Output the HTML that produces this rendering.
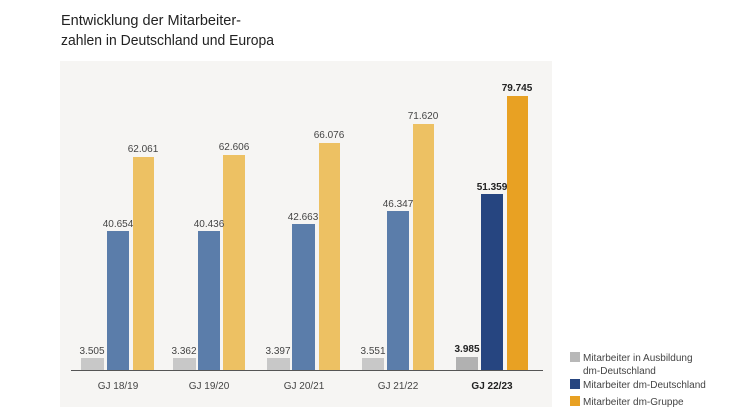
<!DOCTYPE html>
<html><head><meta charset="utf-8"><style>
body{margin:0;background:#fff;}
svg{display:block;font-family:"Liberation Sans",sans-serif;}
</style></head><body>
<svg width="746" height="420" viewBox="0 0 746 420">
<text x="61" y="25" font-size="15" fill="#222" textLength="180" lengthAdjust="spacingAndGlyphs">Entwicklung der Mitarbeiter-</text>
<text x="61" y="45" font-size="15" fill="#222" textLength="213" lengthAdjust="spacingAndGlyphs">zahlen in Deutschland und Europa</text>
<rect x="60" y="61" width="492" height="346" fill="#f6f5f3"/>
<g font-size="10" fill="#444" text-anchor="middle">
<rect x="81" y="358" width="23" height="12" fill="#c8c8c8"/>
<rect x="107" y="231" width="22" height="139" fill="#5b7daa"/>
<rect x="133" y="157" width="21" height="213" fill="#edc163"/>
<text x="92" y="354">3.505</text><text x="118" y="227">40.654</text><text x="143" y="152">62.061</text>
<rect x="173" y="358" width="23" height="12" fill="#c8c8c8"/>
<rect x="198" y="231" width="22" height="139" fill="#5b7daa"/>
<rect x="223" y="155" width="22" height="215" fill="#edc163"/>
<text x="184" y="354">3.362</text><text x="209" y="227">40.436</text><text x="234" y="150">62.606</text>
<rect x="267" y="358" width="23" height="12" fill="#c8c8c8"/>
<rect x="292" y="224" width="23" height="146" fill="#5b7daa"/>
<rect x="319" y="143" width="21" height="227" fill="#edc163"/>
<text x="278" y="354">3.397</text><text x="303" y="220">42.663</text><text x="329" y="138">66.076</text>
<rect x="362" y="358" width="22" height="12" fill="#c8c8c8"/>
<rect x="387" y="211" width="22" height="159" fill="#5b7daa"/>
<rect x="413" y="124" width="21" height="246" fill="#edc163"/>
<text x="373" y="354">3.551</text><text x="398" y="207">46.347</text><text x="423" y="119">71.620</text>
<rect x="456" y="357" width="22" height="13" fill="#b1b1b1"/>
<rect x="481" y="194" width="22" height="176" fill="#264580"/>
<rect x="507" y="96" width="21" height="274" fill="#e8a123"/>
<g font-weight="bold" fill="#222"><text x="467" y="352">3.985</text><text x="492" y="190">51.359</text><text x="517" y="91">79.745</text></g>
<line x1="71" y1="370.5" x2="543" y2="370.5" stroke="#555" stroke-width="1"/>
<text x="118" y="389">GJ 18/19</text>
<text x="209" y="389">GJ 19/20</text>
<text x="304" y="389">GJ 20/21</text>
<text x="398" y="389">GJ 21/22</text>
<text x="492" y="389" font-weight="bold" fill="#222">GJ 22/23</text>
</g>
<g font-size="10" fill="#444">
<rect x="570" y="352" width="10" height="10" fill="#b8b8b8"/>
<text x="583" y="361">Mitarbeiter in Ausbildung</text>
<text x="583" y="374">dm-Deutschland</text>
<rect x="570" y="379" width="10" height="10" fill="#264580"/>
<text x="583" y="388">Mitarbeiter dm-Deutschland</text>
<rect x="570" y="396" width="10" height="10" fill="#e8a123"/>
<text x="583" y="405">Mitarbeiter dm-Gruppe</text>
</g>
</svg>
</body></html>
